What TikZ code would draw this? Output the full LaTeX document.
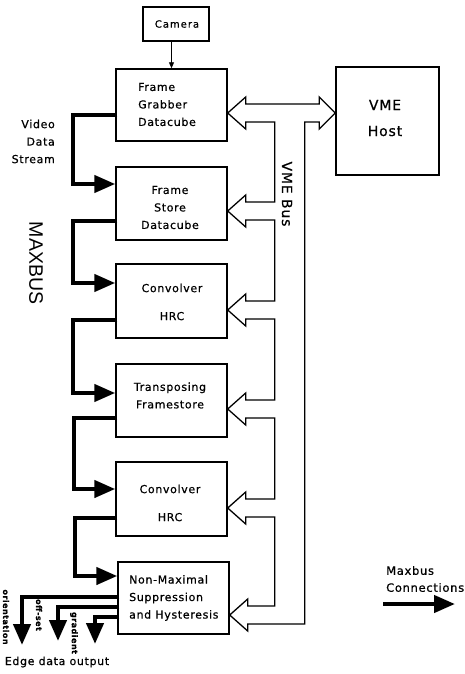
\documentclass[tikz,border=0pt]{standalone}
\usepackage{fontspec}
\setmainfont{DejaVu Sans}[LetterSpace=6,FakeBold=0.6]
\newfontfamily\maxfont{Liberation Sans}
\usetikzlibrary{arrows.meta,calc}
\begin{document}
\begin{tikzpicture}[x=1pt,y=-1pt,
  box/.style={draw,line width=1.4pt,inner sep=0pt,minimum width=111pt},
  lbl/.style={font=\fontsize{11}{17.5}\selectfont,align=center,inner sep=0pt},
  big/.style={font=\fontsize{14}{26}\selectfont,align=center,inner sep=0pt},
  small/.style={font=\bfseries\fontsize{8}{9}\selectfont,inner sep=0pt,rotate=-90},
  mb/.style={line width=4.3pt,-{Triangle[length=21pt,width=17pt]}},
  bus/.style={line width=1.3pt,line join=miter}]
\useasboundingbox (0,0) rectangle (465,674);
\fill[white] (0,0) rectangle (465,674);

% boxes
\node[box,minimum width=66pt,minimum height=34pt] (cam) at (176,24) {};
\node[box,minimum height=72pt] (fg)  at (171.5,105) {};
\node[box,minimum height=73pt] (fs)  at (171.5,203.5) {};
\node[box,minimum height=74pt] (cv1) at (171.5,301) {};
\node[box,minimum height=73pt] (tf)  at (171.5,400.5) {};
\node[box,minimum height=74pt] (cv2) at (171.5,499) {};
\node[box,minimum height=72pt] (nms) at (173.5,598) {};
\node[box,minimum width=103pt,minimum height=108pt] (vme) at (387.5,121) {};

% box texts
\node[font=\addfontfeature{LetterSpace=10}\fontsize{10}{11}\selectfont,inner sep=0pt] (camt) at (177,24) {Camera};
\node[lbl,align=left,anchor=west] (fgt) at (138,104.5) {Frame\\Grabber\\Datacube};
\node[lbl] (fst) at (170,207.5) {Frame\\Store\\Datacube};
\node[lbl] (cv1t) at (172,302) {Convolver\\[10.5pt]HRC};
\node[lbl] (tft) at (170,395.5) {Transposing\\Framestore};
\node[lbl] (cv2t) at (170,503) {Convolver\\[10.5pt]HRC};
\node[lbl,align=left,anchor=west] (nmst) at (129,598) {Non-Maximal\\Suppression\\and Hysteresis};
\node[big] (vmet) at (385,118) {VME\\Host};

% side labels
\node[lbl,align=right,anchor=east] (vds) at (55,141.5) {Video\\Data\\Stream};
\node[font=\maxfont\fontsize{19.5}{20}\selectfont,rotate=-90,inner sep=0pt] (maxb) at (36,263) {MAXBUS};
\node[big,rotate=-90] (vmeb) at (287,194) {VME Bus};
\node[font=\fontsize{11}{12}\selectfont,inner sep=0pt] (edo) at (57,662) {Edge data output};
\node[font=\fontsize{11.5}{17}\selectfont,align=left,anchor=west,inner sep=0pt] (leg) at (386,579) {Maxbus\\Connections};

% camera connection
\draw[line width=0.9pt,-{Triangle[length=6pt,width=5pt]}] (fg.north |- cam.south) -- (fg.north);

% maxbus connections
\draw[mb] (fg.west |- 0,115) ++(2,0) -- (73,115) |- (fs.west |- 0,184);
\draw[mb] (fs.west |- 0,221) ++(2,0) -- (73,221) |- (cv1.west |- 0,283);
\draw[mb] (cv1.west |- 0,320) ++(2,0) -- (73,320) |- (tf.west |- 0,393);
\draw[mb] (tf.west |- 0,418) ++(2,0) -- (74,418) |- (cv2.west |- 0,489);
\draw[mb] (cv2.west |- 0,518) ++(2,0) -- (75,518) |- (nms.west |- 0,576);

% edge data outputs
\coordinate (o1) at (22,645);
\coordinate (o2) at (58,641);
\coordinate (o3) at (95,644);
\draw[mb] (nms.west |- 0,597) ++(2,0) -| (o1);
\draw[mb] (nms.west |- 0,607) ++(2,0) -| (o2);
\draw[mb] (nms.west |- 0,617) ++(2,0) -| (o3);
\node[small] (lo) at (6,617) {orientation};
\node[small] (ls) at (39,615) {off-set};
\node[small] (lgr) at (74,633) {gradient};

% legend arrow
\coordinate (lga) at (383,604);
\coordinate (lgb) at (455,604);
\draw[mb] (lga) -- (lgb);

% VME bus
\coordinate (t1) at (fg.east |- 0,113);
\coordinate (t2) at (fs.east |- 0,211);
\coordinate (t3) at (cv1.east |- 0,310);
\coordinate (t4) at (tf.east |- 0,409);
\coordinate (t5) at (cv2.east |- 0,508);
\coordinate (t6) at (nms.east |- 0,615);
\draw[bus] (vme.west |- t1) -- ++(-16,-16) -- ++(0,7)
  -- ($(t1)+(18,-9)$) -- ++(0,-7) -- (t1) -- ++(18,16) -- ++(0,-7)
  -- ($(t1)+(47,9)$) -- ($(t2)+(47,-9)$)
  -- ($(t2)+(18,-9)$) -- ++(0,-7) -- (t2) -- ++(18,16) -- ++(0,-7)
  -- ($(t2)+(47,9)$) -- ($(t3)+(47,-9)$)
  -- ($(t3)+(18,-9)$) -- ++(0,-7) -- (t3) -- ++(18,16) -- ++(0,-7)
  -- ($(t3)+(47,9)$) -- ($(t4)+(47,-9)$)
  -- ($(t4)+(18,-9)$) -- ++(0,-7) -- (t4) -- ++(18,16) -- ++(0,-7)
  -- ($(t4)+(47,9)$) -- ($(t5)+(47,-9)$)
  -- ($(t5)+(18,-9)$) -- ++(0,-7) -- (t5) -- ++(18,16) -- ++(0,-7)
  -- ($(t5)+(47,9)$) -- ($(t6)+(45,-9)$)
  -- ($(t6)+(18,-9)$) -- ++(0,-7) -- (t6) -- ++(18,16) -- ++(0,-7)
  -- ($(t6)+(75,9)$) -- ($(t1)+(77,9)$)
  -- ($(vme.west |- t1)+(-16,9)$) -- ++(0,7) -- cycle;
\end{tikzpicture}
\end{document}
